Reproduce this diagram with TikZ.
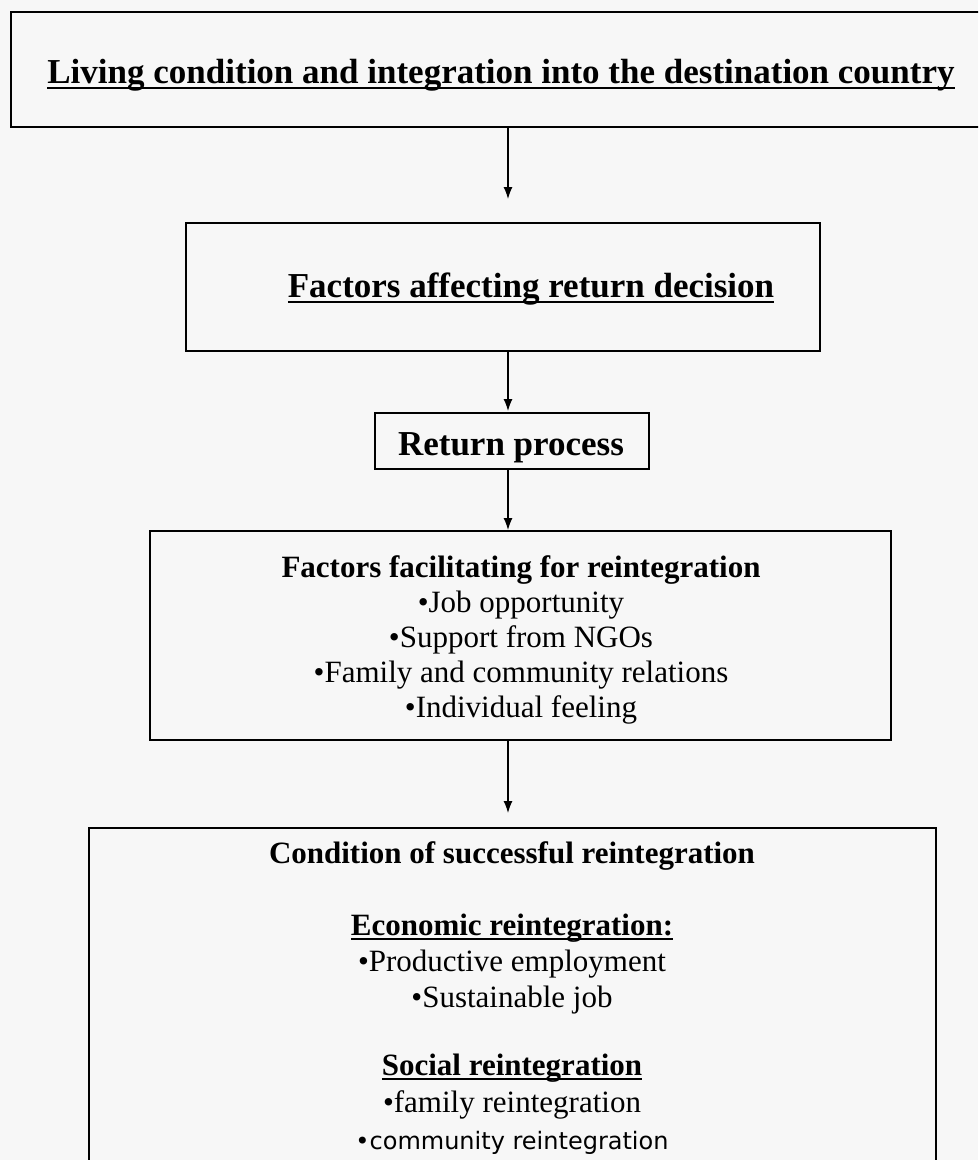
\documentclass[tikz,border=0pt]{standalone}
\usepackage{fontspec}
\setmainfont{Liberation Serif}
\newfontfamily\sansline{DejaVu Sans}
\usetikzlibrary{arrows.meta}
\newcommand{\ulbf}[1]{\setbox0\hbox{\bfseries #1}\rlap{\rule[-0.17em]{\wd0}{0.06em}}\box0}

\begin{document}
\begin{tikzpicture}[x=1pt,y=-1pt,>={Latex[length=12pt,width=9pt]},
  frame/.style={draw,line width=1.8pt,inner sep=0pt},
  flow/.style={->,line width=1.5pt},
  ttl/.style={anchor=base,font=\fontsize{35}{40}\selectfont\bfseries},
  hdr/.style={anchor=base,font=\fontsize{31}{36}\selectfont\bfseries},
  itm/.style={anchor=base,font=\fontsize{31}{36}\selectfont}]
\useasboundingbox (0,0) rectangle (978,1160);
\clip (0,0) rectangle (978,1160);
\fill[black!3] (0,0) rectangle (978,1160);
% boxes
\node[frame,minimum width=994pt,minimum height=115pt] (living) at (508,69.5) {};
\node[frame,minimum width=634pt,minimum height=128pt] (affect) at (503,287) {};
\node[frame,minimum width=274pt,minimum height=56pt] (ret) at (512,441) {};
\node[frame,minimum width=741pt,minimum height=209pt] (facil) at (520.5,635.5) {};
\node[frame,minimum width=847pt,minimum height=372pt] (cond) at (512.5,1014) {};
% arrows
\draw[flow,shorten >=23pt] (living.south) -- (living.south |- affect.north);
\draw[flow,shorten >=1pt] (living.south |- affect.south) -- (living.south |- ret.north);
\draw[flow] (living.south |- ret.south) -- (living.south |- facil.north);
\draw[flow,shorten >=14pt] (living.south |- facil.south) -- (living.south |- cond.north);
% titles
\node[ttl] (t1) at (501,83) {\ulbf{Living condition and integration into the destination country}};
\node[ttl] (t2) at (531,297) {\ulbf{Factors affecting return decision}};
\node[ttl] (t3) at (511,455) {Return process};
% facilitating factors
\node[hdr] (f0) at (521,577) {Factors facilitating for reintegration};
\foreach \y/\txt [count=\i] in {612/Job opportunity,647/Support from NGOs,682/Family and community relations,717/Individual feeling}
  \node[itm] (f\i) at (521,\y) {\textbullet\txt};
% conditions
\node[hdr] (c0) at (512,863) {Condition of successful reintegration};
\node[hdr] (e0) at (512,935) {\ulbf{Economic reintegration:}};
\node[itm] (e1) at (512,971) {\textbullet Productive employment};
\node[itm] (e2) at (512,1007) {\textbullet Sustainable job};
\node[hdr] (s0) at (512,1075) {\ulbf{Social reintegration}};
\node[itm] (s1) at (512,1112) {\textbullet family reintegration};
\node[itm,font=\sansline\fontsize{24}{30}\selectfont] (s2) at (512,1149) {\textbullet community reintegration};
\end{tikzpicture}
\end{document}
